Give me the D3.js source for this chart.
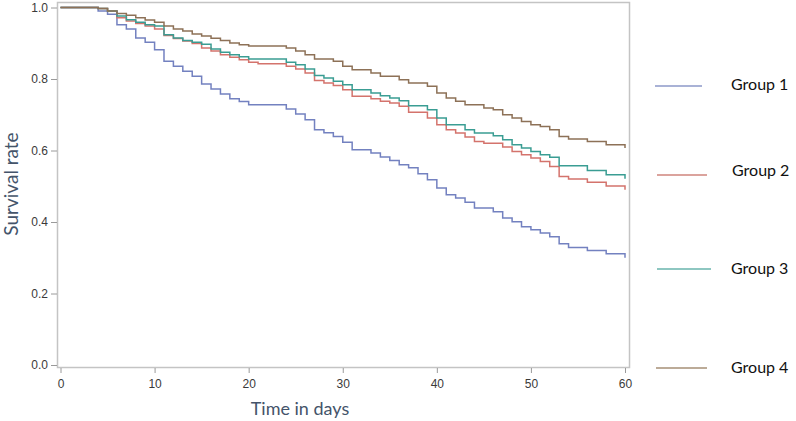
<!DOCTYPE html>
<html>
<head>
<meta charset="utf-8">
<script src="https://cdn.jsdelivr.net/npm/d3@7"></script>
<style>
  html, body { margin: 0; padding: 0; background: #fff; }
  svg { display: block; }
</style>
</head>
<body>
<svg id="chart" width="796" height="421"></svg>
<script>
// ---------- DATA ----------
const groupNames = ["Group 1", "Group 2", "Group 3", "Group 4"];
const xTicks = [0, 10, 20, 30, 40, 50, 60];
const yTicks = [0.0, 0.2, 0.4, 0.6, 0.8, 1.0];

const g1Days = [0,4,5,6,7,8,9,10,11,12,13,14,15,16,17,18,19,20,24,25,26,27,28,29,30,31,33,34,35,36,37,38,39,40,41,42,43,44,46,47,48,49,50,51,52,53,54,56,58,60];
const g1Surv = [1,0.990,0.981,0.952,0.940,0.915,0.903,0.882,0.850,0.836,0.822,0.808,0.786,0.772,0.758,0.745,0.737,0.728,0.716,0.702,0.686,0.658,0.650,0.639,0.623,0.602,0.593,0.582,0.572,0.560,0.552,0.535,0.518,0.495,0.476,0.467,0.455,0.439,0.429,0.411,0.401,0.387,0.378,0.369,0.359,0.339,0.329,0.320,0.311,0.300];

const g2Days = [0,4,5,6,7,8,9,10,11,12,13,14,15,16,17,18,19,20,21,24,25,26,27,28,29,30,31,33,34,35,36,37,39,40,41,42,43,44,45,47,48,49,50,51,52,53,54,56,58,60];
const g2Surv = [1,0.997,0.990,0.971,0.962,0.955,0.948,0.940,0.922,0.913,0.906,0.899,0.887,0.878,0.868,0.861,0.854,0.847,0.843,0.836,0.828,0.817,0.796,0.789,0.782,0.770,0.752,0.745,0.738,0.733,0.724,0.707,0.691,0.672,0.658,0.649,0.638,0.625,0.620,0.610,0.597,0.588,0.579,0.569,0.555,0.527,0.520,0.511,0.501,0.490];

const g3Days = [0,4,5,6,7,8,9,10,11,12,13,14,15,16,17,18,19,20,24,25,26,27,28,29,30,31,33,34,35,36,37,39,40,41,43,44,46,47,48,49,50,51,52,53,56,58,60];
const g3Surv = [1,0.997,0.990,0.976,0.966,0.959,0.952,0.948,0.924,0.915,0.908,0.903,0.897,0.884,0.875,0.868,0.862,0.856,0.847,0.840,0.828,0.810,0.803,0.794,0.784,0.770,0.761,0.753,0.747,0.739,0.725,0.714,0.691,0.672,0.658,0.649,0.641,0.630,0.616,0.607,0.597,0.588,0.581,0.557,0.544,0.532,0.521];

const g4Days = [0,4,5,6,7,8,9,10,11,12,13,14,15,16,17,18,19,20,24,25,26,27,29,30,31,33,34,36,37,39,40,41,42,43,45,46,47,48,49,50,51,52,53,54,56,58,60];
const g4Surv = [1,0.997,0.990,0.983,0.978,0.971,0.965,0.959,0.948,0.940,0.934,0.926,0.920,0.914,0.908,0.901,0.896,0.892,0.887,0.878,0.868,0.856,0.850,0.836,0.826,0.817,0.808,0.798,0.789,0.780,0.761,0.747,0.738,0.728,0.719,0.714,0.700,0.691,0.681,0.672,0.667,0.658,0.639,0.632,0.625,0.616,0.607];

// ---------- STYLE ----------
const lineColors   = ["#7381c0", "#d4736c", "#3a9d93", "#8d7157"];
const legendColors = ["#a9b2d6", "#dba39d", "#8ec7c1", "#bcab98"];
const legendLayout = [
  {x1: 655, x2: 702, y: 86,  tx: 731, ty: 90},
  {x1: 657, x2: 707, y: 175, tx: 732, ty: 176},
  {x1: 657, x2: 711, y: 269, tx: 731, ty: 274},
  {x1: 656, x2: 707, y: 368, tx: 731, ty: 373}
];

const svg = d3.select("#chart");
const x = d3.scaleLinear().domain([0, 60]).range([60.5, 625]);
const y = d3.scaleLinear().domain([0, 1]).range([365, 7.5]);

// frame
svg.append("rect")
  .attr("x", 57.5).attr("y", 2.5)
  .attr("width", 629.5 - 57.5).attr("height", 367.5 - 2.5)
  .attr("fill", "none").attr("stroke", "#c4c4c4").attr("stroke-width", 1.5);

// y axis
const yAxis = d3.axisLeft(y).tickValues(yTicks).tickFormat(d3.format(".1f")).tickSize(6).tickPadding(3);
const gy = svg.append("g").attr("transform", "translate(57,0)").call(yAxis);
gy.select(".domain").remove();
gy.selectAll(".tick line").attr("stroke", "#9a9a9a");
gy.selectAll(".tick text").attr("fill", "#3a3a3a").style("font-family", "'Liberation Sans', Arial, sans-serif").style("font-size", "12px");

// x axis
const xAxis = d3.axisBottom(x).tickValues(xTicks).tickFormat(d3.format("d")).tickSize(5).tickPadding(6);
const gx = svg.append("g").attr("transform", "translate(0,368)").call(xAxis);
gx.select(".domain").remove();
gx.selectAll(".tick line").attr("stroke", "#9a9a9a");
gx.selectAll(".tick text").attr("fill", "#3a3a3a").style("font-family", "'Liberation Sans', Arial, sans-serif").style("font-size", "12px");

// axis titles
svg.append("text")
  .attr("transform", "translate(18,184) rotate(-90)")
  .attr("text-anchor", "middle")
  .attr("fill", "#44546a")
  .style("font-family", "Lato, 'Open Sans', sans-serif")
  .style("font-size", "19px")
  .text("Survival rate");

svg.append("text")
  .attr("x", 300).attr("y", 415)
  .attr("text-anchor", "middle")
  .attr("fill", "#44546a")
  .style("font-family", "Lato, 'Open Sans', sans-serif")
  .style("font-size", "18px")
  .text("Time in days");

// curves
const series = [
  {days: g1Days, surv: g1Surv},
  {days: g2Days, surv: g2Surv},
  {days: g3Days, surv: g3Surv},
  {days: g4Days, surv: g4Surv}
];
const line = d3.line().x(d => x(d[0])).y(d => y(d[1])).curve(d3.curveStepAfter);
series.forEach((s, i) => {
  const pts = s.days.map((d, j) => [d, s.surv[j]]);
  svg.append("path")
    .attr("d", line(pts))
    .attr("fill", "none")
    .attr("stroke", lineColors[i])
    .attr("stroke-width", 1.5);
});

// legend
groupNames.forEach((name, i) => {
  const L = legendLayout[i];
  svg.append("line")
    .attr("x1", L.x1).attr("x2", L.x2).attr("y1", L.y).attr("y2", L.y)
    .attr("stroke", legendColors[i]).attr("stroke-width", 2);
  svg.append("text")
    .attr("x", L.tx).attr("y", L.ty)
    .attr("fill", "#111")
    .style("font-family", "Lato, 'Open Sans', sans-serif")
    .style("font-size", "16px")
    .text(name);
});
</script>
</body>
</html>
